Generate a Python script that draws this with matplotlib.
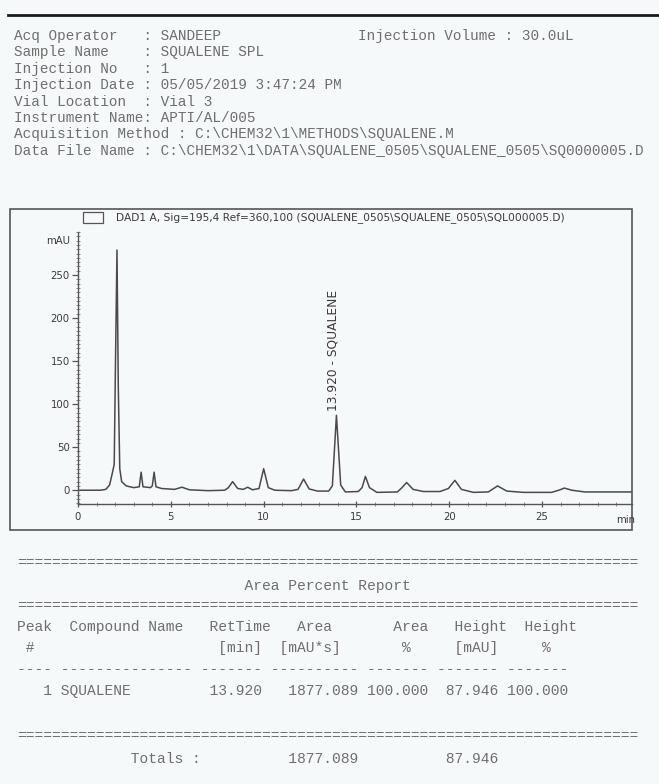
import matplotlib
matplotlib.use("Agg")
import matplotlib.pyplot as plt
from matplotlib.patches import Rectangle
from matplotlib.ticker import MultipleLocator

# header of the printout
header_labels = ["Acq Operator   ", "Sample Name    ", "Injection No   ", "Injection Date ",
                 "Vial Location  ", "Instrument Name", "Acquisition Method ", "Data File Name "]
header_values = ["SANDEEP", "SQUALENE SPL", "1", "05/05/2019 3:47:24 PM", "Vial 3",
                 "APTI/AL/005", "C:\\CHEM32\\1\\METHODS\\SQUALENE.M",
                 "C:\\CHEM32\\1\\DATA\\SQUALENE_0505\\SQUALENE_0505\\SQ0000005.D"]
inj_volume = "30.0uL"

# chromatogram trace (time in min, signal in mAU)
time_min = [0.0, 1.2, 1.5, 1.7, 1.85, 1.95, 2.02, 2.1, 2.17, 2.25, 2.35, 2.6, 3.0,
            3.3, 3.4, 3.5, 3.9, 4.0, 4.1, 4.2, 4.5, 5.2, 5.6, 6.0, 7.0, 7.9, 8.1,
            8.33, 8.6, 8.9, 9.14, 9.4, 9.75, 10.0, 10.25, 10.6, 11.5, 11.85, 12.15,
            12.45, 12.9, 13.5, 13.7, 13.92, 14.15, 14.4, 15.1, 15.3, 15.48, 15.7,
            16.1, 17.2, 17.45, 17.7, 18.05, 18.6, 19.5, 19.95, 20.3, 20.65, 21.3,
            22.1, 22.6, 23.1, 24.0, 25.5, 25.9, 26.2, 26.6, 27.3, 29.84]
signal_mau = [0, 0, 1, 6, 20, 30, 150, 279, 120, 25, 10, 5, 3,
              4, 21, 4, 3, 5, 21, 4, 2, 1, 3.5, 0.5, -0.5, 0, 3,
              10, 2, 1, 3.5, 0.5, 2, 25, 3, 0, -0.5, 1, 13,
              1.5, -1, -1, 5, 87, 6, -2, -1.5, 3, 16, 3,
              -2.5, -2, 3, 9, 1, -1.5, -1.5, 2, 11.5, 1, -2.5,
              -2, 5, -1, -2.5, -2.5, 0, 2.5, 0, -2, -2]

# area percent report
peak_no = [1]
compound = ["SQUALENE"]
ret_time = [13.920]
area = [1877.089]
area_pct = [100.000]
height = [87.946]
height_pct = [100.000]
total_area = 1877.089
total_height = 87.946

W, H = 659, 784
bg = "#f6f9fa"
ink = "#6e6e6e"
mono = "Liberation Mono"


def fx(x):
    return x / W


def fy(y):
    return 1 - y / H


fig = plt.figure(figsize=(W / 100, H / 100), dpi=100, facecolor=bg)

# top rule
fig.add_artist(plt.Line2D([fx(8), fx(659)], [fy(15), fy(15)], color="#1a1a1a", lw=2))

for i, (lab, val) in enumerate(zip(header_labels, header_values)):
    fig.text(fx(14), fy(36 + 16.4 * i), lab + ": " + val, family=mono, fontsize=10.4,
             color=ink, va="center")
fig.text(fx(358), fy(36), "Injection Volume : " + inj_volume, family=mono, fontsize=10.4,
         color=ink, va="center")

# chart frame
fig.add_artist(Rectangle((fx(10), fy(530)), fx(632 - 10), (530 - 209) / H,
                         fill=False, ec="#555555", lw=1.2))
fig.add_artist(Rectangle((fx(83), fy(223)), fx(20), 11 / H, fill=False, ec="#555555", lw=0.9))
fig.text(fx(116), fy(218), "DAD1 A, Sig=195,4 Ref=360,100 (SQUALENE_0505\\SQUALENE_0505\\SQL000005.D)",
         fontsize=7.7, color="#3a3a3a", va="center")

ax = fig.add_axes([fx(78), fy(504), fx(632 - 78), (504 - 232) / H])
ax.set_facecolor(bg)
ax.plot(time_min, signal_mau, color="#4a4a4a", lw=1.1)
ax.set_xlim(0, 29.84)
ax.set_ylim(-16, 300)
for s in ["top", "right"]:
    ax.spines[s].set_visible(False)
for s in ["left", "bottom"]:
    ax.spines[s].set_color("#555555")
    ax.spines[s].set_linewidth(1.0)

ax.xaxis.set_major_locator(MultipleLocator(5))
ax.xaxis.set_minor_locator(MultipleLocator(1))
ax.yaxis.set_major_locator(MultipleLocator(50))
ax.yaxis.set_minor_locator(MultipleLocator(5))
ax.set_yticks([0, 50, 100, 150, 200, 250])
ax.tick_params(axis="both", which="major", labelsize=7.3, colors="#555555", labelcolor="#3a3a3a")
ax.tick_params(axis="y", which="major", direction="out", length=4.5, width=0.9, pad=1.5)
ax.tick_params(axis="y", which="minor", direction="inout", length=2.5, width=0.6, colors="#777777")
ax.tick_params(axis="x", which="major", direction="inout", length=5, width=0.9, pad=3)
ax.tick_params(axis="x", which="minor", direction="inout", length=3, width=0.6, colors="#777777")

ax.text(-0.015, 289, "mAU", transform=ax.get_yaxis_transform(), ha="right", va="center",
        fontsize=7.3, color="#3a3a3a")
fig.text(fx(635), fy(520), "min", ha="right", va="center", fontsize=7.3, color="#3a3a3a")

# peak label
ax.text(ret_time[0] - 0.2, 92, f"{ret_time[0]:.3f} - {compound[0]}", rotation=90,
        ha="center", va="bottom", fontsize=8.8, color="#3a3a3a")

# report table, fixed-width columns
sep = "=" * 71
x0 = 17
rows = [
    (563, sep),
    (586, " " * 26 + "Area Percent Report"),
    (606, sep),
    (627, "Peak  Compound Name   RetTime   Area       Area   Height  Height"),
    (648, " #                     [min]  [mAU*s]       %     [mAU]     %"),
    (669, "---- --------------- ------- ---------- ------- ------- -------"),
]
for p, c, rt, a, ap, h, hp in zip(peak_no, compound, ret_time, area, area_pct, height, height_pct):
    line = f"{p:>4d} {c:<15s} {rt:>7.3f} {a:>10.3f} {ap:>7.3f} {h:>7.3f} {hp:>7.3f}"
    rows.append((691, line))
rows.append((736, sep))
rows.append((759, " " * 13 + "Totals :" + " " * 10 + f"{total_area:>8.3f}" + " " * 10
             + f"{total_height:>6.3f}"))

for y, txt in rows:
    fig.text(fx(x0), fy(y), txt, family=mono, fontsize=10.5, color=ink, va="center")

fig.savefig("out.png", dpi=100, facecolor=bg)
